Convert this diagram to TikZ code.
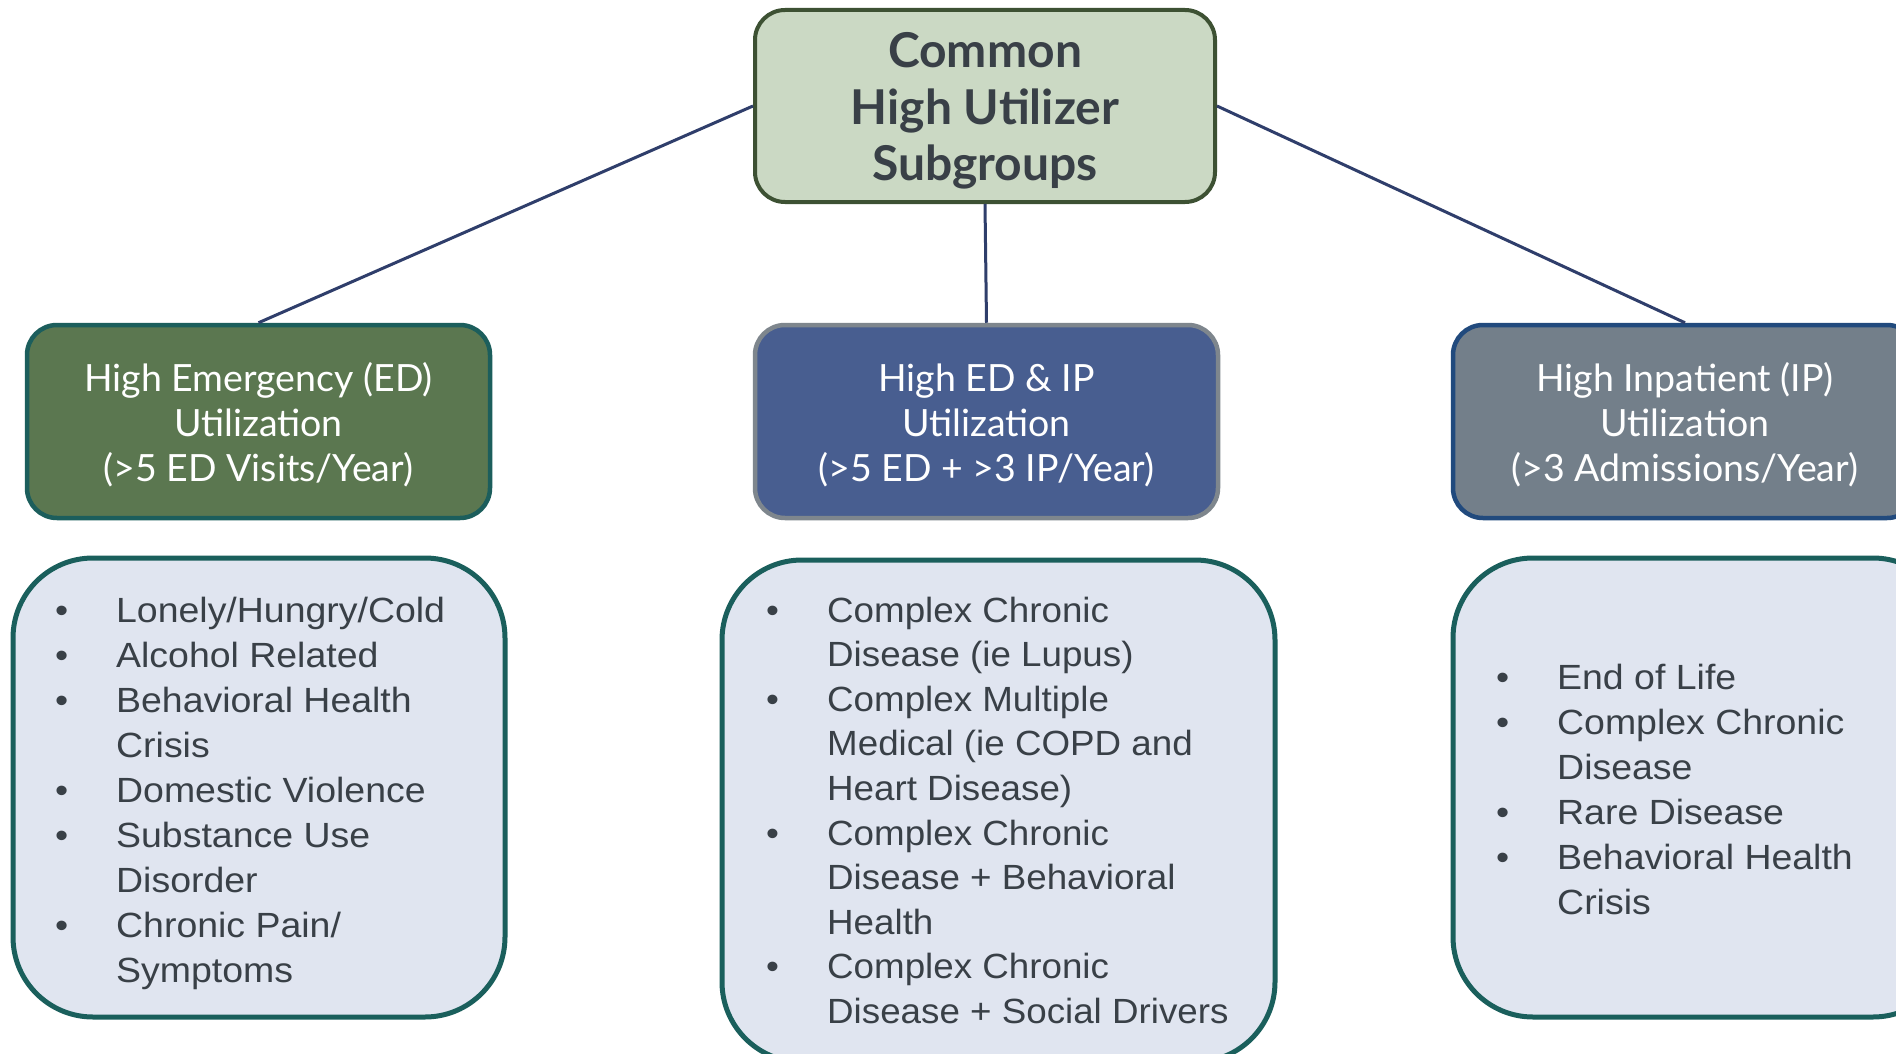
\documentclass[tikz,border=0pt]{standalone}
\usepackage{fontspec}
\setmainfont{Lato}
\newfontfamily\listfont[FakeStretch=1.07]{Liberation Sans}
\newfontfamily\listfontnarrow[FakeStretch=1.05]{Liberation Sans}
\definecolor{txtdark}{HTML}{394047}
\definecolor{titlefill}{HTML}{CBD9C4}
\definecolor{titleline}{HTML}{3D5133}
\definecolor{edfill}{HTML}{5B7750}
\definecolor{edline}{HTML}{1C5E5C}
\definecolor{bothfill}{HTML}{485E90}
\definecolor{bothline}{HTML}{7E868D}
\definecolor{ipfill}{HTML}{737F8A}
\definecolor{ipline}{HTML}{214A7D}
\definecolor{listfill}{HTML}{E0E5F0}
\definecolor{listline}{HTML}{1A5F5C}
\definecolor{linkcol}{HTML}{2F3E6B}
\newcommand{\bulletrows}[1]{\begin{tabular}[t]{@{}p{61pt}@{}l@{}}#1\end{tabular}}
\tikzset{
  titlebox/.style={draw=titleline, line width=4pt, fill=titlefill, rounded corners=30pt,
    minimum width=460pt, minimum height=192pt},
  titletext/.style={align=center, text=txtdark, inner sep=0pt,
    font=\fontsize{48}{56.5}\selectfont\bfseries},
  headbox/.style={line width=4.5pt, rounded corners=30pt, minimum width=463pt,
    minimum height=193pt},
  headtext/.style={align=center, text=white, inner sep=0pt,
    font=\fontsize{37.5}{45}\selectfont},
  listbox/.style={draw=listline, fill=listfill, line width=5pt, rounded corners=80pt},
  listtext/.style={anchor=base west, inner sep=0pt, text=txtdark,
    font=\listfont\fontsize{35}{45}\selectfont},
  link/.style={draw=linkcol, line width=3pt}
}
\begin{document}
\begin{tikzpicture}[x=1pt,y=-1pt]
  \clip (0,0) rectangle (1896,1054);
  \fill[white] (0,0) rectangle (1896,1054);

  % top-level node
  \node[titlebox] (top) at (985,106) {};
  \node[titletext] (toptext) at (985,111) {Common\\High Utilizer\\Subgroups};

  % utilization categories
  \node[headbox, draw=edline, fill=edfill] (hed) at (258.5,421.5) {};
  \node[headtext] (hedtext) at (258.5,425)
    {High Emergency (ED)\\Utilization\\(>5 ED Visits/Year)};
  \node[headbox, draw=bothline, fill=bothfill] (hboth) at (986.5,421.5) {};
  \node[headtext] (hbothtext) at (986.5,425)
    {High ED \& IP\\Utilization\\(>5 ED + >3 IP/Year)};
  \node[headbox, draw=ipline, fill=ipfill, minimum width=464pt] (hip) at (1685,421.5) {};
  \node[headtext] (hiptext) at (1685,425)
    {High Inpatient (IP)\\Utilization\\(>3 Admissions/Year)};

  % connectors
  \draw[link] (top.west) -- (hed.north);
  \draw[link] (top.south) -- (hboth.north);
  \draw[link] (top.east) -- (hip.north);

  % subgroup lists
  \node[listbox, minimum width=492pt, minimum height=459pt] (led) at (259,787.5) {};
  \node[listbox, minimum width=553pt, minimum height=502pt] (lboth) at (998.5,811) {};
  \node[listbox, minimum width=500pt, minimum height=459pt] (lip) at (1703,787.5) {};

  \node[listtext] (ted) at (55,622) {\bulletrows{%
    \textbullet & Lonely/Hungry/Cold\\
    \textbullet & Alcohol Related\\
    \textbullet & Behavioral Health\\
                & Crisis\\
    \textbullet & Domestic Violence\\
    \textbullet & Substance Use\\
                & Disorder\\
    \textbullet & Chronic Pain/\\
                & Symptoms}};
  \node[listtext, font=\listfontnarrow\fontsize{35}{44.6}\selectfont] (tboth) at (766,622)
   {\bulletrows{%
    \textbullet & Complex Chronic\\
                & Disease (ie Lupus)\\
    \textbullet & Complex Multiple\\
                & Medical (ie COPD and\\
                & Heart Disease)\\
    \textbullet & Complex Chronic\\
                & Disease + Behavioral\\
                & Health\\
    \textbullet & Complex Chronic\\
                & Disease + Social Drivers}};
  \node[listtext] (tip) at (1496,689) {\bulletrows{%
    \textbullet & End of Life\\
    \textbullet & Complex Chronic\\
                & Disease\\
    \textbullet & Rare Disease\\
    \textbullet & Behavioral Health\\
                & Crisis}};
\end{tikzpicture}
\end{document}
